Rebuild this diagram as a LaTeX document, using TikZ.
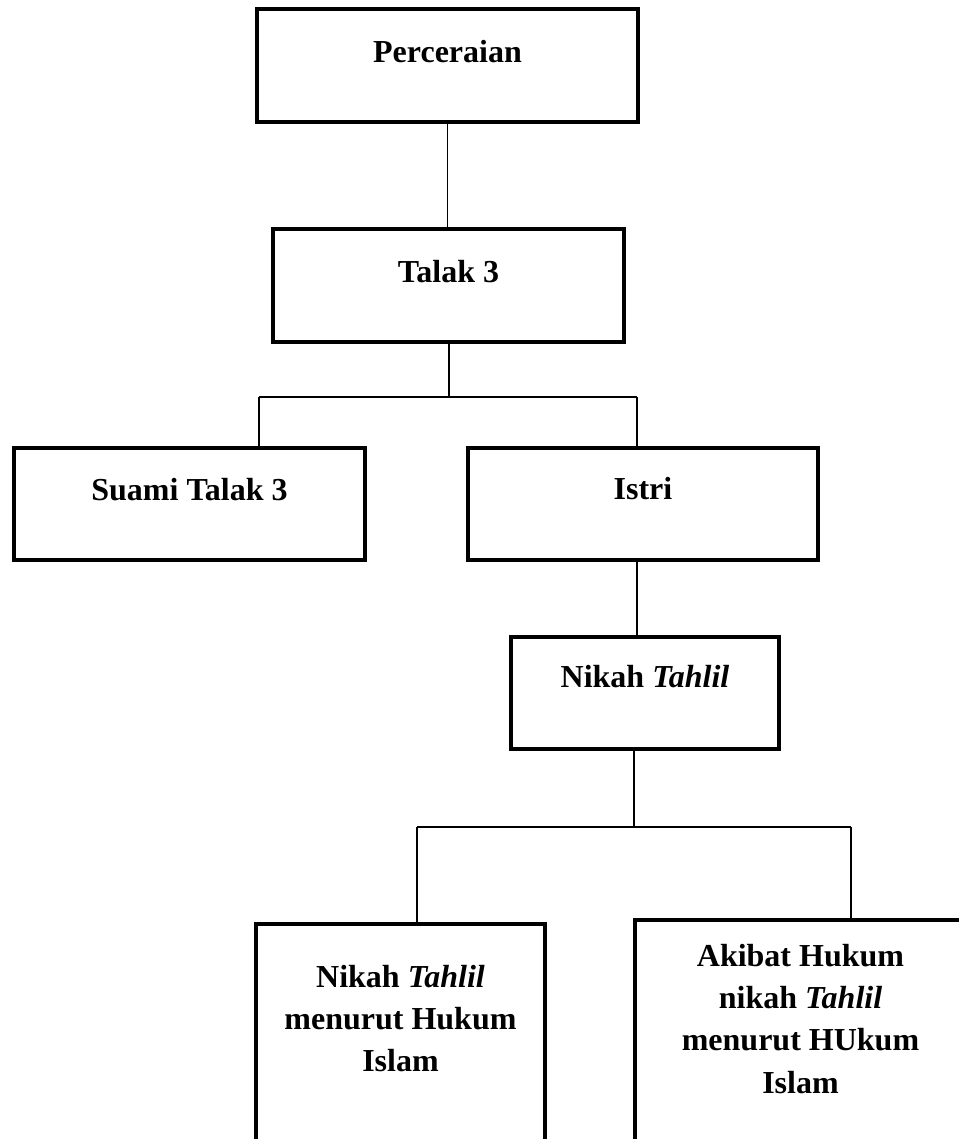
\documentclass[tikz,border=0pt]{standalone}
\usepackage{fontspec}
\setmainfont{Liberation Serif}
\newdimen\pxu \pxu=0.75pt
% #1 width, #2 height, #3 first baseline offset, #4 text (all in px)
\newcommand{\boxtxt}[4]{\parbox[c][#2\pxu][t]{#1\pxu}{\centering\fontsize{24}{31.8}\selectfont\bfseries\rule{0pt}{#3\pxu}#4\par}}
\begin{document}
\begin{tikzpicture}[x=0.75pt,y=-0.75pt,
  bx/.style={draw=black,line width=3pt,inner sep=0pt,outer sep=0pt},
  conn/.style={draw=black,line width=1pt}]
\useasboundingbox (0,0) rectangle (959,1139);
\node[bx] (perc)  at (447.5,65.5) {\boxtxt{381}{113}{53}{Perceraian}};
\node[bx] (talak) at (448.5,285.5) {\boxtxt{351}{113}{53}{Talak 3}};
\node[bx] (suami) at (189.5,504) {\boxtxt{351}{112}{52}{Suami Talak 3}};
\node[bx] (istri) at (643,504) {\boxtxt{350}{112}{51}{Istri}};
\node[bx] (nikah) at (645,693) {\boxtxt{268}{112}{50}{Nikah \textit{Tahlil}}};
\node[bx] (bl) at (400.5,1044) {\boxtxt{289}{240}{63}{Nikah \textit{Tahlil}\\menurut Hukum\\Islam}};
\node[bx] (br) at (800.5,1040) {\boxtxt{331}{240}{46}{Akibat Hukum\\nikah \textit{Tahlil}\\menurut HUkum\\Islam}};
% connectors
\draw[conn] (perc.south) -- (perc.south |- talak.north);
\coordinate (j1) at (449,397);
\coordinate (hl) at (259,397);
\coordinate (hr) at (637,397);
\draw[conn] (talak.south -| j1) -- (j1);
\draw[conn] (hl) -- (hr);
\draw[conn] (hl) -- (hl |- suami.north);
\draw[conn] (hr) -- (hr |- istri.north);
\coordinate (c1) at (637,600);
\draw[conn] (istri.south -| c1) -- (nikah.north -| c1);
\coordinate (c2) at (634,827);
\coordinate (hl2) at (417,827);
\coordinate (hr2) at (851,827);
\draw[conn] (nikah.south -| c2) -- (c2);
\draw[conn] (hl2) -- (hr2);
\draw[conn] (hl2) -- (hl2 |- bl.north);
\draw[conn] (hr2) -- (hr2 |- br.north);
\end{tikzpicture}
\end{document}
